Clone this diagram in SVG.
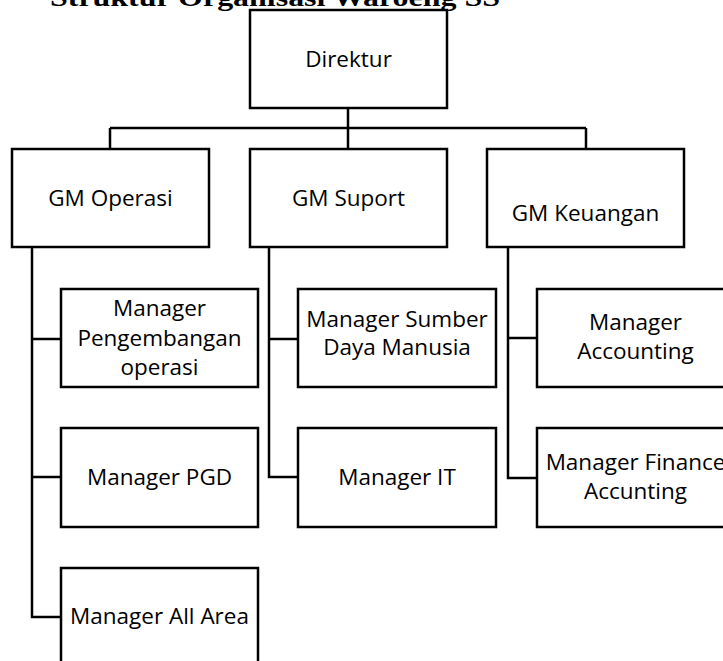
<svg xmlns="http://www.w3.org/2000/svg" width="723" height="661" viewBox="0 0 723 661">
<style>
.box{fill:#fff;stroke:#000;stroke-width:2.5}
.conn{fill:none;stroke:#000;stroke-width:2.5}
.lbl{font-family:"Open Sans","Liberation Sans",sans-serif;font-size:22.5px;fill:#000;text-anchor:middle}
.title{font-family:"Liberation Serif","DejaVu Serif",serif;font-weight:bold;font-size:26px;fill:#000}
</style>
<rect width="723" height="661" fill="#fff"/>
<text class="title" x="50" y="6" textLength="450" lengthAdjust="spacingAndGlyphs">Struktur Organisasi Waroeng SS</text>
<g id="connectors">
<path class="conn" d="M348,108V128M110,128H586M110,128V149M348,128V149M586,128V149"/>
<path class="conn" d="M32,247V617H61M32,339H61M32,477H61"/>
<path class="conn" d="M269,247V477H298M269,339H298"/>
<path class="conn" d="M508,247V478H537M508,338H537"/>
</g>
<g id="direktur"><rect class="box" x="250" y="10" width="197" height="98"/><text class="lbl" x="348.5" y="67">Direktur</text></g>
<g id="gm-operasi"><rect class="box" x="12" y="149" width="197" height="98"/><text class="lbl" x="110.5" y="206">GM Operasi</text></g>
<g id="gm-suport"><rect class="box" x="250" y="149" width="197" height="98"/><text class="lbl" x="348.5" y="206">GM Suport</text></g>
<g id="gm-keuangan"><rect class="box" x="487" y="149" width="197" height="98"/><text class="lbl" x="585.5" y="221">GM Keuangan</text></g>
<g id="mgr-pengembangan"><rect class="box" x="61" y="289" width="197" height="98"/><text class="lbl" x="159.5" y="316">Manager</text><text class="lbl" x="159.5" y="346">Pengembangan</text><text class="lbl" x="159.5" y="375">operasi</text></g>
<g id="mgr-pgd"><rect class="box" x="61" y="428" width="197" height="99"/><text class="lbl" x="159.5" y="485">Manager PGD</text></g>
<g id="mgr-all-area"><rect class="box" x="61" y="568" width="197" height="99"/><text class="lbl" x="159.5" y="624">Manager All Area</text></g>
<g id="mgr-sdm"><rect class="box" x="298" y="289" width="198" height="98"/><text class="lbl" x="397" y="327">Manager Sumber</text><text class="lbl" x="397" y="355">Daya Manusia</text></g>
<g id="mgr-it"><rect class="box" x="298" y="428" width="198" height="99"/><text class="lbl" x="397" y="485">Manager IT</text></g>
<g id="mgr-accounting"><rect class="box" x="537" y="289" width="197" height="98"/><text class="lbl" x="635.5" y="330">Manager</text><text class="lbl" x="635.5" y="359">Accounting</text></g>
<g id="mgr-finance"><rect class="box" x="537" y="428" width="197" height="99"/><text class="lbl" x="635.5" y="470">Manager Finance</text><text class="lbl" x="635.5" y="499">Accunting</text></g>
</svg>
